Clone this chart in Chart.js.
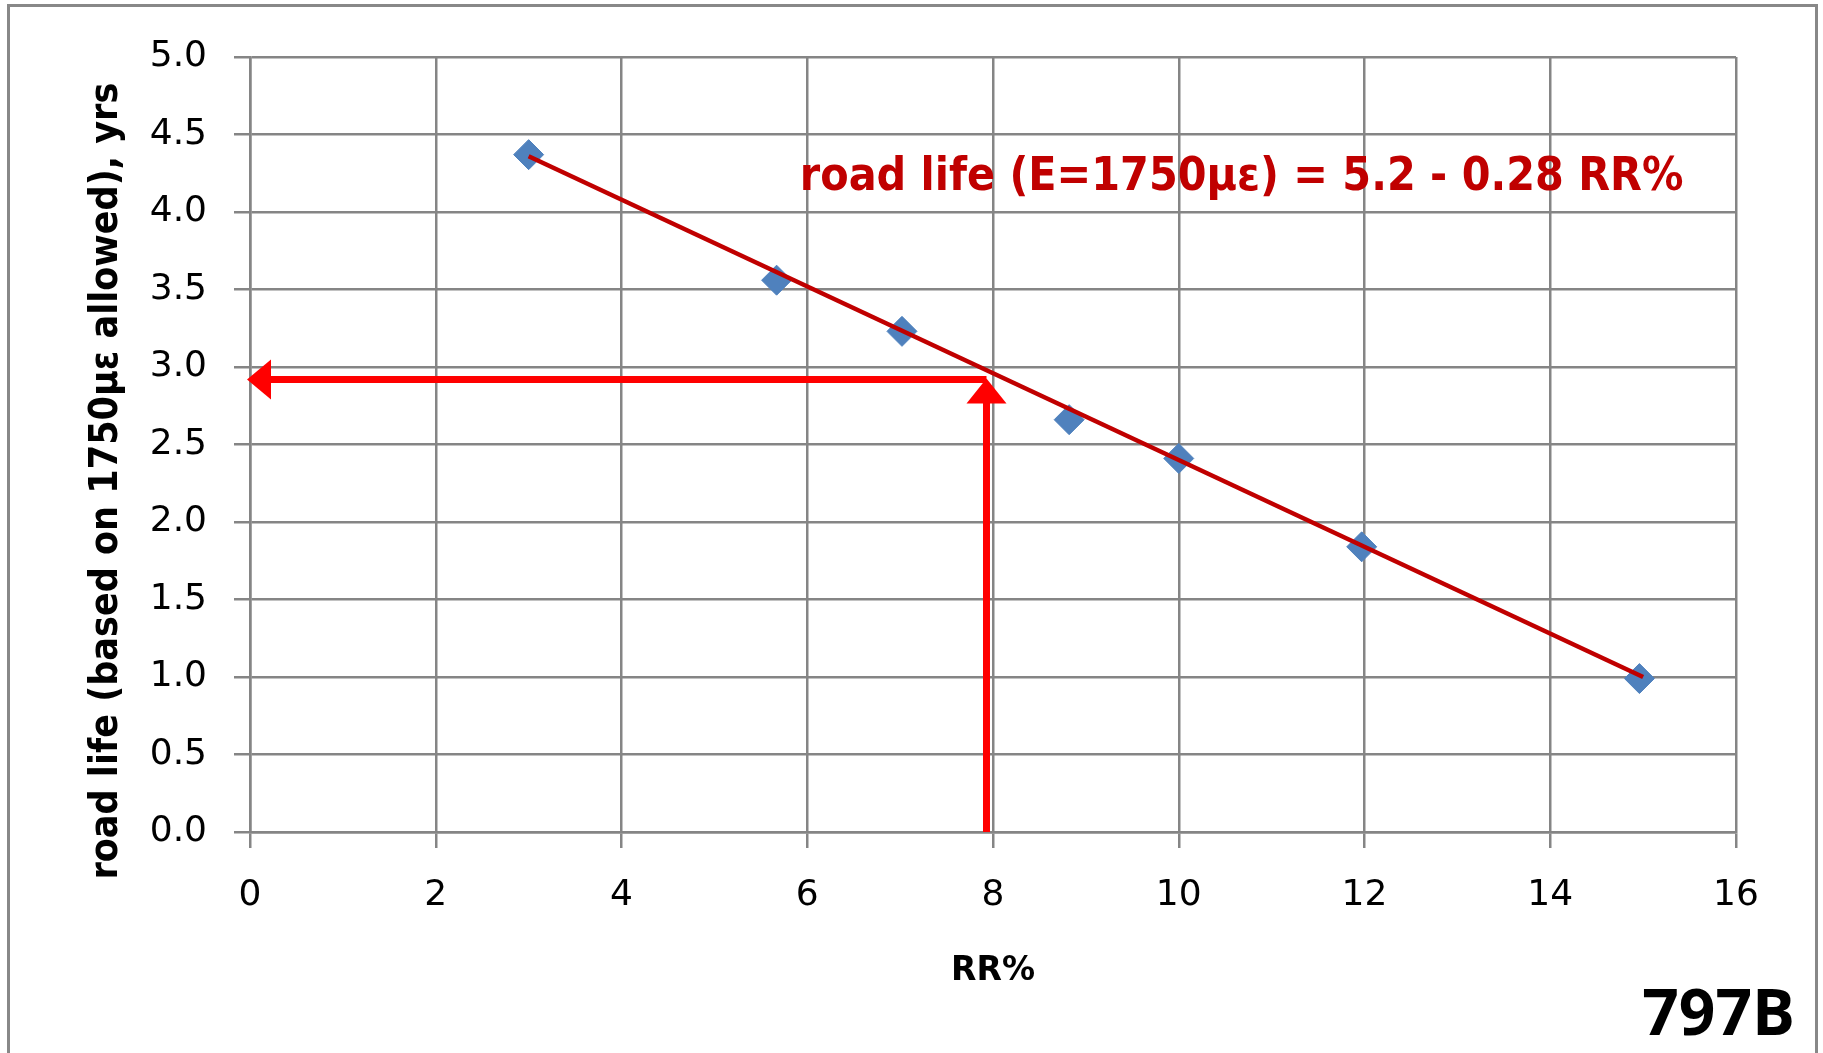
<!DOCTYPE html>
<html>
<head>
<meta charset="utf-8">
<script src="https://cdn.jsdelivr.net/npm/chart.js@4/dist/chart.umd.min.js"></script>
<style>
  html, body { margin: 0; padding: 0; background: #fff; overflow: hidden; }
  #frame { position: absolute; left: 7px; top: 4px; width: 1811px; height: 1100px; border: 3px solid #888; box-sizing: border-box; }
  #wrap { position: absolute; left: 0; top: 0; width: 1823px; height: 1053px; }
</style>
</head>
<body>
<div id="frame"></div>
<div id="wrap"><canvas id="chart"></canvas></div>
<script>
// measured points (RR% vs road life in years)
const rrPct = [3, 5.67, 7.02, 8.82, 10, 11.97, 14.96];
const roadLife = [4.37, 3.56, 3.23, 2.66, 2.41, 1.84, 0.99];

// linear fit end points: road life = 5.2 - 0.28 RR%
const fitRR = [3, 15];
const fitLife = [4.36, 1.0];

// read-off arrows
const readRR = 7.93;
const readLife = 2.92;

const xTicks = [0, 2, 4, 6, 8, 10, 12, 14, 16];
const yTicks = [0, 0.5, 1, 1.5, 2, 2.5, 3, 3.5, 4, 4.5, 5];

const eqnText = "road life (E=1750\u00b5\u03b5) = 5.2 - 0.28 RR%";
const eqnAt = { x: 5.92, y: 4.14 };
const tagText = "797B";

const gridGrey = "#858585";
const tickFont = { family: "'DejaVu Sans', Verdana, sans-serif", size: 36 };

const overlay = {
    id: "overlay",
    beforeDatasetsDraw(chart) {
        const { ctx, scales: { x, y } } = chart;
        const ax = x.getPixelForValue(readRR);
        const ay = y.getPixelForValue(readLife);
        const x0 = x.getPixelForValue(0);
        const y0 = y.getPixelForValue(0);
        ctx.save();
        ctx.strokeStyle = "#ff0000";
        ctx.fillStyle = "#ff0000";
        ctx.lineWidth = 7;
        // up arrow
        ctx.beginPath();
        ctx.moveTo(ax, y0);
        ctx.lineTo(ax, ay + 20);
        ctx.stroke();
        ctx.beginPath();
        ctx.moveTo(ax, ay - 1);
        ctx.lineTo(ax - 20, ay + 24);
        ctx.lineTo(ax + 20, ay + 24);
        ctx.closePath();
        ctx.fill();
        // left arrow
        ctx.beginPath();
        ctx.moveTo(ax, ay);
        ctx.lineTo(x0 + 20, ay);
        ctx.stroke();
        ctx.beginPath();
        ctx.moveTo(x0 - 3, ay);
        ctx.lineTo(x0 + 21, ay - 20);
        ctx.lineTo(x0 + 21, ay + 20);
        ctx.closePath();
        ctx.fill();
        ctx.restore();
    },
    afterDraw(chart) {
        const { ctx, scales: { x, y } } = chart;
        ctx.save();
        ctx.fillStyle = "#c00000";
        ctx.font = "bold 46px 'DejaVu Sans Condensed', 'DejaVu Sans', sans-serif";
        ctx.textAlign = "left";
        ctx.textBaseline = "alphabetic";
        ctx.fillText(eqnText, x.getPixelForValue(eqnAt.x), y.getPixelForValue(eqnAt.y));

        ctx.fillStyle = "#000";
        ctx.font = "bold 64px 'Open Sans', sans-serif";
        ctx.textAlign = "right";
        ctx.fillText(tagText, chart.width - 28, chart.height - 18);
        ctx.restore();
    }
};

new Chart(document.getElementById("chart"), {
    type: "scatter",
    data: {
        datasets: [
            {
                type: "line",
                label: "fit",
                data: fitRR.map((v, i) => ({ x: v, y: fitLife[i] })),
                borderColor: "#c00000",
                borderWidth: 4.5,
                pointRadius: 0,
                fill: false
            },
            {
                label: "road life",
                data: rrPct.map((v, i) => ({ x: v, y: roadLife[i] })),
                pointStyle: "rectRot",
                pointRadius: 15,
                backgroundColor: "#4f81bd",
                borderColor: "#4f81bd",
                borderWidth: 1
            }
        ]
    },
    options: {
        responsive: true,
        maintainAspectRatio: false,
        animation: false,
        layout: { padding: { left: 0, top: 57, right: 87, bottom: 0 } },
        plugins: {
            legend: { display: false },
            tooltip: { enabled: false }
        },
        scales: {
            x: {
                type: "linear",
                min: 0,
                max: 16,
                afterBuildTicks: s => { s.ticks = xTicks.map(v => ({ value: v })); },
                afterFit: s => { s.height = 221; },
                grid: { color: gridGrey, lineWidth: 2.5, tickLength: 16, drawTicks: true },
                border: { color: gridGrey, width: 2.5 },
                ticks: { font: tickFont, color: "#000", padding: 26, maxRotation: 0 },
                title: {
                    display: true,
                    text: "RR%",
                    color: "#000",
                    font: { family: "'DejaVu Sans', sans-serif", size: 33, weight: "bold" },
                    padding: { top: 0, bottom: 62 }
                }
            },
            y: {
                type: "linear",
                min: 0,
                max: 5,
                afterBuildTicks: s => { s.ticks = yTicks.map(v => ({ value: v })); },
                afterFit: s => { s.width = 250; },
                grid: { color: gridGrey, lineWidth: 2.5, tickLength: 16, drawTicks: true },
                border: { color: gridGrey, width: 2.5 },
                ticks: {
                    font: tickFont,
                    color: "#000",
                    padding: 27,
                    callback: v => v.toFixed(1)
                },
                title: {
                    display: true,
                    text: "road life (based on 1750\u00b5\u03b5 allowed), yrs\u00a0\u00a0\u00a0\u00a0\u00a0\u00a0",
                    color: "#000",
                    font: { family: "'DejaVu Sans Condensed', 'DejaVu Sans', sans-serif", size: 39, weight: "bold" },
                    padding: { top: 83, bottom: 0 }
                }
            }
        }
    },
    plugins: [overlay]
});
</script>
</body>
</html>
